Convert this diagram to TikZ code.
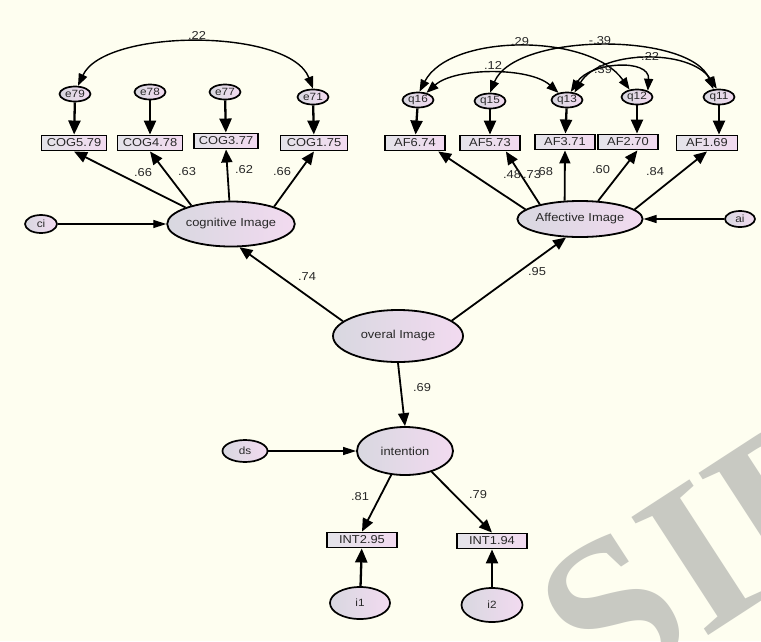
\documentclass[tikz,border=0pt]{standalone}
\usepackage{fontspec}
\setmainfont[FakeStretch=1.12]{Liberation Sans}
\newfontfamily\wmfont{Liberation Serif}
\usetikzlibrary{arrows.meta,shapes.geometric}
\definecolor{bg}{RGB}{254,254,240}
\definecolor{lgray}{RGB}{216,216,224}
\definecolor{lpink}{RGB}{242,218,240}
\definecolor{txt}{RGB}{40,40,40}
\definecolor{wm}{RGB}{200,201,194}
\begin{document}
\begin{tikzpicture}[x=1pt,y=-1pt,
  lat/.style={ellipse, draw=black, line width=1.8pt, left color=lgray, right color=lpink, inner sep=0pt, font=\fontsize{11.5}{12}\selectfont, text=txt},
  err/.style={ellipse, draw=black, line width=1.7pt, left color=lgray, right color=lpink, inner sep=0pt, minimum width=31pt, minimum height=15pt, font=\fontsize{10.5}{11}\selectfont, text=txt},
  obs/.style={rectangle, draw=black, line width=1.9pt, left color=lgray!70!white, right color=lpink, inner sep=0pt, minimum height=15pt, font=\fontsize{11.5}{12}\selectfont, text=txt},
  lab/.style={font=\fontsize{11.5}{12}\selectfont, text=txt, inner sep=0pt},
  arr/.style={-{Triangle[length=13pt,width=11pt]}, line width=1.8pt},
  earr/.style={-{Triangle[length=14pt,width=12pt]}, line width=2.3pt},
  darr/.style={-{Triangle[length=13pt,width=8pt]}, line width=1.1pt},
  cov/.style={{Triangle[length=12pt,width=9pt]}-{Triangle[length=12pt,width=9pt]}, line width=1.4pt},
]
\useasboundingbox (0,0) rectangle (761,641);
\fill[bg] (0,0) rectangle (761,641);
% watermark
\node[text=wm, rotate=33, inner sep=0pt, font=\wmfont\bfseries\fontsize{215}{215}\selectfont] (wmark) at (714,548) {SID};

% cognitive side
\node[err] (e79) at (75,94) {e79};
\node[err] (e78) at (150,92) {e78};
\node[err] (e77) at (225,92) {e77};
\node[err] (e71) at (313,97) {e71};
\node[obs, minimum width=65pt] (cog5) at (74,143) {COG5.79};
\node[obs, minimum width=65pt] (cog4) at (150,143) {COG4.78};
\node[obs, minimum width=64pt] (cog3) at (226,141) {COG3.77};
\node[obs, minimum width=67pt] (cog1) at (314,143) {COG1.75};
\node[lat, minimum width=127pt, minimum height=45pt] (cog) at (231,224) {cognitive Image};
\node[err, minimum width=32pt, minimum height=18pt] (ci) at (41,224) {ci};

% affective side
\node[err] (q16) at (418,100) {q16};
\node[err] (q15) at (490,101) {q15};
\node[err] (q13) at (567,100) {q13};
\node[err] (q12) at (637,97) {q12};
\node[err] (q11) at (719,97) {q11};
\node[obs, minimum width=60pt] (af6) at (415,143) {AF6.74};
\node[obs, minimum width=60pt] (af5) at (490,143) {AF5.73};
\node[obs, minimum width=60pt] (af3) at (565,142) {AF3.71};
\node[obs, minimum width=60pt] (af2) at (628,142) {AF2.70};
\node[obs, minimum width=61pt] (af1) at (707,143) {AF1.69};
\node[lat, minimum width=124pt, minimum height=36pt] (aff) at (580,219) {Affective Image};
\node[err, minimum width=30pt, minimum height=16pt] (ai) at (740,219) {ai};

% center / bottom
\node[lat, minimum width=130pt, minimum height=52pt] (overal) at (398,336) {overal Image};
\node[lat, minimum width=96pt, minimum height=48pt] (intent) at (405,451) {intention};
\node[err, minimum width=45pt, minimum height=22pt] (ds) at (245,451) {ds};
\node[obs, minimum width=70pt] (int2) at (362,540) {INT2.95};
\node[obs, minimum width=70pt] (int1) at (492,541) {INT1.94};
\node[err, minimum width=60pt, minimum height=32pt] (i1) at (360,603) {i1};
\node[err, minimum width=61pt, minimum height=34pt] (i2) at (492,605) {i2};

% error arrows
\draw[earr] (e79) -- (cog5);
\draw[earr] (e78) -- (cog4);
\draw[earr] (e77) -- (cog3);
\draw[earr] (e71) -- (cog1);
\draw[earr] (q16) -- (af6);
\draw[earr] (q15) -- (af5);
\draw[earr] (q13) -- (af3);
\draw[earr] (q12) -- (q12 |- af2.north);
\draw[earr] (q11) -- (q11 |- af1.north);
\draw[earr] (i1) -- (int2);
\draw[earr] (i2) -- (int1);

% loadings
\draw[arr] (cog.160) -- (cog5.south);
\draw[arr] (cog.155) -- (cog4.south);
\draw[arr] (cog.94) -- (cog3.south);
\draw[arr] (cog.22) -- (cog1.south);
\draw[arr] (aff.170) -- (af6.-20);
\draw[arr] (aff.160) -- (af5.-28);
\draw[arr] (aff.130) -- (af3.south);
\draw[arr] (aff.45) -- (af2.-42);
\draw[arr] (aff.10) -- (af1.south);
\draw[arr] (overal.165) -- (cog.290);
\draw[arr] (overal.16) -- (aff.233);
\draw[arr] (overal.south) -- (intent.north);
\draw[arr] (intent.240) -- (int2.north);
\draw[arr] (intent.-38) -- (int1.north);

% disturbances
\draw[darr] (ci) -- (cog);
\draw[darr] (ai) -- (aff);
\draw[darr] (ds) -- (intent);

% covariances
\draw[cov] (e79.70) .. controls (105,28) and (290,28) .. (e71.north);
\draw[cov] (q16.80) .. controls (450,33) and (590,33) .. (q12.135);
\draw[cov] (q16.40) .. controls (455,67) and (530,67) .. (q13.140);
\draw[cov] (q15.north) .. controls (515,32) and (690,32) .. (q11.125);
\draw[cov] (q13.45) .. controls (600,50) and (690,48) .. (q11.105);
\draw[cov] (q13.65) .. controls (590,62) and (650,58) .. (q12.30);

% labels
\node[lab] (l22) at (197,35) {.22};
\node[lab] (l66a) at (143,173) {.66};
\node[lab] (l63) at (187,172) {.63};
\node[lab] (l62) at (244,170) {.62};
\node[lab] (l66b) at (282,172) {.66};
\node[lab] (l74) at (307,277) {.74};
\node[lab] (l29) at (520,42) {.29};
\node[lab] (l39n) at (600,41) {-.39};
\node[lab] (l22n) at (648,56) {-.22};
\node[lab] (l12) at (493,65) {.12};
\node[lab] (l39) at (603,70) {.39};
\node[lab] (l48) at (512,175) {.48};
\node[lab] (l73) at (532,175) {.73};
\node[lab] (l68) at (544,172) {.68};
\node[lab] (l60) at (601,170) {.60};
\node[lab] (l84) at (655,172) {.84};
\node[lab] (l95) at (537,272) {.95};
\node[lab] (l69) at (422,388) {.69};
\node[lab] (l81) at (360,497) {.81};
\node[lab] (l79) at (478,495) {.79};
\end{tikzpicture}
\end{document}
